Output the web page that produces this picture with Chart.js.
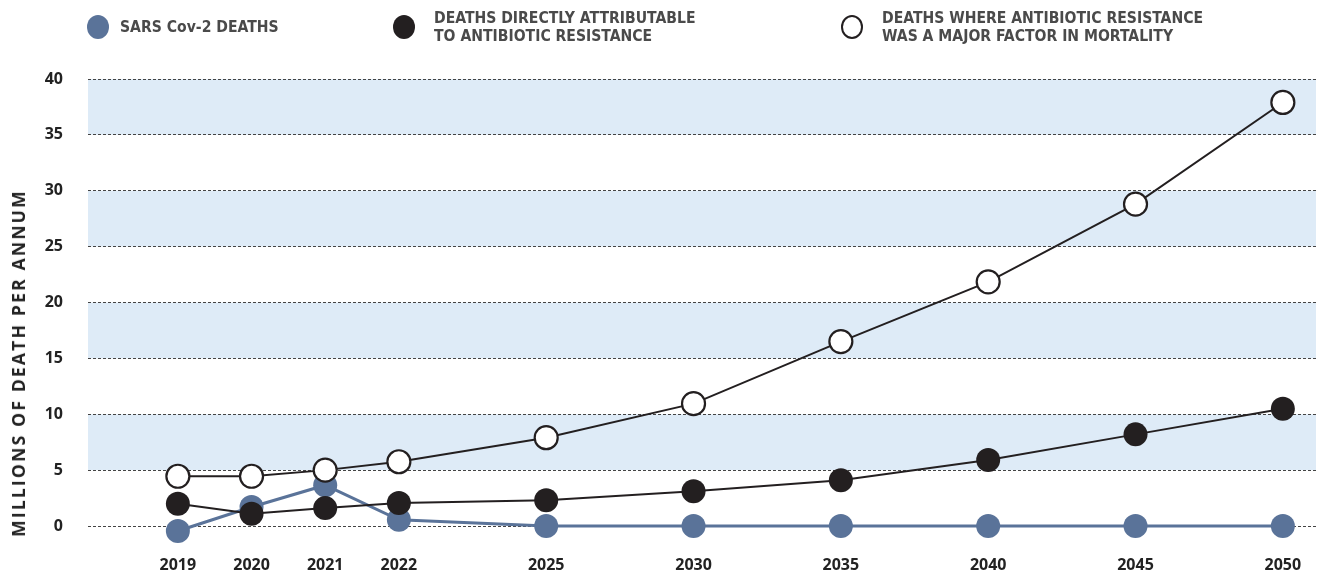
<!DOCTYPE html>
<html>
<head>
<meta charset="utf-8">
<script src="https://cdn.jsdelivr.net/npm/chart.js@4"></script>
<style>
  html, body { margin: 0; padding: 0; background: #fff; }
  #wrap { position: relative; width: 1321px; height: 574px; }
  #chart { position: absolute; left: 0; top: 0; }
  .leg { position: absolute; display: flex; align-items: center;
         font-family: "Liberation Sans Narrow", "DejaVu Sans Condensed", "Open Sans", sans-serif;
         font-weight: bold; font-size: 15.6px; line-height: 18px; color: #4a4a4a; }
  .dot { width: 22px; height: 24px; border-radius: 50%; box-sizing: border-box; flex: none; }
  #ytitle { position: absolute; left: 18px; top: 363px; transform: translate(-50%, -50%) rotate(-90deg);
            white-space: nowrap; font-family: "Open Sans", sans-serif; font-weight: bold;
            font-size: 17.5px; letter-spacing: 2.2px; color: #222; }
</style>
</head>
<body>
<div id="wrap">
  <canvas id="chart" width="1321" height="574"></canvas>
  <div class="leg" style="left:87px; top:15px;">
    <div class="dot" style="background:#5a7399; margin-right:11px;"></div><div>SARS Cov-2 DEATHS</div>
  </div>
  <div class="leg" style="left:393px; top:9px;">
    <div class="dot" style="background:#231f20; margin-right:19px;"></div><div>DEATHS DIRECTLY ATTRIBUTABLE<br>TO ANTIBIOTIC RESISTANCE</div>
  </div>
  <div class="leg" style="left:841px; top:9px;">
    <div class="dot" style="background:#fff; border:2px solid #231f20; margin-right:19px;"></div><div>DEATHS WHERE ANTIBIOTIC RESISTANCE<br>WAS A MAJOR FACTOR IN MORTALITY</div>
  </div>
  <div id="ytitle">MILLIONS OF DEATH PER ANNUM</div>
</div>
<script>
// === Data ===
const years = ["2019", "2020", "2021", "2022", "2025", "2030", "2035", "2040", "2045", "2050"];
// slot on the x axis (early years are one slot apart, later ones two)
const slots = [0, 1, 2, 3, 5, 7, 9, 11, 13, 15];
const covidDeaths = [-0.45, 1.7, 3.65, 0.55, 0, 0, 0, 0, 0, 0];
const directDeaths = [2.0, 1.1, 1.6, 2.05, 2.3, 3.1, 4.1, 5.9, 8.2, 10.5];
const majorFactorDeaths = [4.45, 4.45, 5.0, 5.75, 7.9, 10.95, 16.5, 21.85, 28.8, 37.9];
const yTicks = [0, 5, 10, 15, 20, 25, 30, 35, 40];

const toPoints = (vals) => vals.map((v, i) => ({ x: slots[i], y: v }));

const blue = "#5a7399";
const dark = "#231f20";

// light blue bands between every other gridline
const bandPlugin = {
    id: "bands",
    beforeDraw(chart) {
        const { ctx, chartArea, scales } = chart;
        ctx.save();
        ctx.fillStyle = "#deebf7";
        for (let v = 5; v < 40; v += 10) {
            const top = scales.y.getPixelForValue(v + 5);
            const bottom = scales.y.getPixelForValue(v);
            ctx.fillRect(chartArea.left, top, chartArea.right - chartArea.left, bottom - top);
        }
        ctx.restore();
    }
};

const tickFont = { family: "'Open Sans', sans-serif", weight: "bold", size: 16 };

new Chart(document.getElementById("chart"), {
    type: "line",
    data: {
        datasets: [
            {
                label: "DEATHS WHERE ANTIBIOTIC RESISTANCE WAS A MAJOR FACTOR IN MORTALITY",
                data: toPoints(majorFactorDeaths),
                borderColor: dark, borderWidth: 2,
                pointBackgroundColor: "#fff", pointBorderColor: dark, pointBorderWidth: 2.2,
                pointRadius: 11.5, order: 0, clip: false
            },
            {
                label: "DEATHS DIRECTLY ATTRIBUTABLE TO ANTIBIOTIC RESISTANCE",
                data: toPoints(directDeaths),
                borderColor: dark, borderWidth: 2,
                pointBackgroundColor: dark, pointBorderColor: dark, pointBorderWidth: 0,
                pointRadius: 12, order: 1, clip: false
            },
            {
                label: "SARS Cov-2 DEATHS",
                data: toPoints(covidDeaths),
                borderColor: blue, borderWidth: 3,
                pointBackgroundColor: blue, pointBorderColor: blue, pointBorderWidth: 0,
                pointRadius: 12, order: 2, clip: false
            }
        ]
    },
    options: {
        responsive: false,
        animation: false,
        layout: { autoPadding: false, padding: { left: 42, top: 79, right: 5, bottom: 0 } },
        plugins: {
            legend: { display: false },
            tooltip: { enabled: false }
        },
        scales: {
            x: {
                type: "linear",
                min: -1.22,
                max: 15.45,
                afterBuildTicks(axis) { axis.ticks = slots.map(s => ({ value: s })); },
                afterFit(axis) {
                    axis.height = 48;
                    axis.paddingLeft = 0;
                    axis.paddingRight = 0;
                },
                ticks: {
                    callback: (v) => years[slots.indexOf(v)],
                    font: tickFont, color: "#222", padding: 30, maxRotation: 0, autoSkip: false
                },
                grid: { display: false, drawTicks: false },
                border: { display: false }
            },
            y: {
                min: 0,
                max: 40,
                afterBuildTicks(axis) { axis.ticks = yTicks.map(v => ({ value: v })); },
                afterFit(axis) {
                    axis.width = 46;
                    axis.paddingTop = 0;
                    axis.paddingBottom = 0;
                },
                ticks: { font: tickFont, color: "#222", padding: 25 },
                grid: { color: "#444", lineWidth: 1, drawTicks: false },
                border: { display: false, dash: [3, 2] }
            }
        }
    },
    plugins: [bandPlugin]
});
</script>
</body>
</html>
